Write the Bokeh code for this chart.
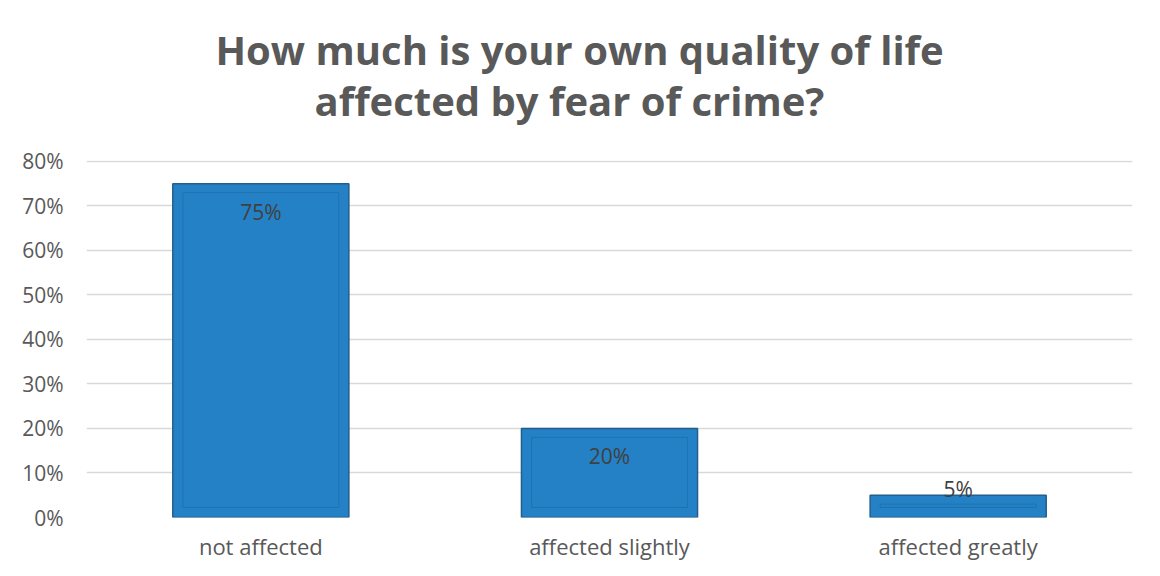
from bokeh.plotting import figure
from bokeh.models import ColumnDataSource, Title, NumeralTickFormatter, SingleIntervalTicker, FactorRange
from bokeh.core.properties import value
from bokeh.embed import file_html
from bokeh.resources import INLINE

categories = ["not affected", "affected slightly", "affected greatly"]
shares = [0.75, 0.20, 0.05]
share_labels = ["75%", "20%", "5%"]
title_lines = ["How much is your own quality of life", "affected by fear of crime?"]

FONT = "Open Sans"
W, H = 1144, 563
BL, BR, BT, BB = 86, 12, 160, 46

src = ColumnDataSource(dict(
    cat=categories,
    val=shares,
    lab=share_labels,
    inner_top=[v - 0.02 for v in shares],
    off=[28 if v >= 0.1 else -6 for v in shares],
))

p = figure(x_range=FactorRange(*categories, range_padding=0), y_range=(0, 0.802),
           width=W, height=H, output_backend="svg", toolbar_location=None,
           min_border_left=BL, min_border_right=BR, min_border_top=BT, min_border_bottom=BB)
p.title.visible = False
p.outline_line_color = None
p.background_fill_color = "white"
p.border_fill_color = "white"

p.xgrid.grid_line_color = None
p.ygrid.grid_line_color = "#D9D9D9"
p.ygrid.grid_line_width = 1.5
p.yaxis.ticker = SingleIntervalTicker(interval=0.1, num_minor_ticks=0)
p.yaxis.formatter = NumeralTickFormatter(format="0%")

for ax in (p.xaxis, p.yaxis):
    ax.axis_line_color = None
    ax.major_tick_line_color = None
    ax.minor_tick_line_color = None
    ax.major_tick_out = 0
    ax.major_tick_in = 0
    ax.major_label_text_font = FONT
    ax.major_label_text_color = "#595959"
p.yaxis.major_label_text_font_size = "21px"
p.yaxis.major_label_standoff = 23
p.xaxis.major_label_text_font_size = "22px"
p.xaxis.major_label_standoff = 13

p.vbar(x="cat", top="val", bottom=0, width=0.505, source=src,
       fill_color="#2581C5", line_color="#245E8A", line_width=1.5)
p.vbar(x="cat", top="inner_top", bottom=0.0225, width=0.447, source=src,
       fill_color=None, line_color="#1E73B2", line_width=1)

p.text(x="cat", y="val", text="lab", source=src, y_offset="off",
       text_align="center", text_baseline="middle",
       text_font=value(FONT), text_font_size="21px", text_color="#404040")

# title: second line added first (closest to the plot)
for line, offs, stand in zip(reversed(title_lines), [228, 129], [65, -77]):
    p.add_layout(Title(text=line, align="left", offset=offs,
                       text_font=FONT, text_font_size="40px", text_font_style="bold",
                       text_color="#595959", standoff=stand), "above")

open("out.html", "w").write(file_html(p, INLINE))
